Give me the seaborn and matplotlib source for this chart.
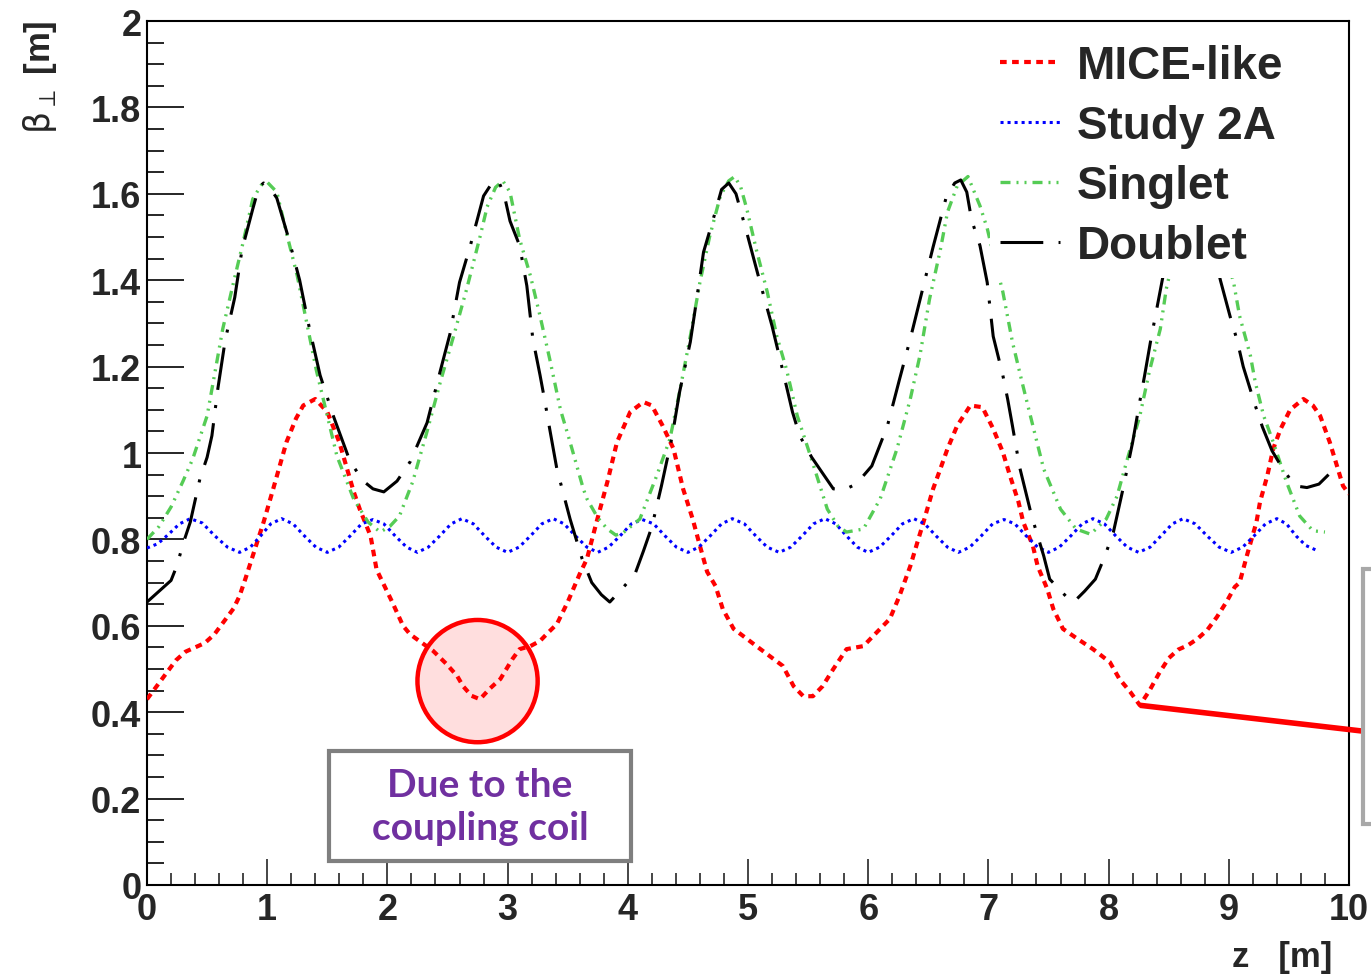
"""Transverse beta function along the cooling lattice for four channel designs."""
import matplotlib

matplotlib.use("Agg")
import matplotlib.pyplot as plt
import numpy as np
import pandas as pd
import seaborn as sns
from matplotlib.lines import Line2D
from matplotlib.patches import Ellipse, Rectangle
from matplotlib.ticker import MultipleLocator

# ---- data (z in m, beta_perp in m) ----
mice_z = [0.00, 0.08, 0.16, 0.24, 0.32, 0.40, 0.48, 0.56, 0.64, 0.72, 0.77, 0.82, 0.88, 0.97,
          1.05, 1.16, 1.24, 1.30, 1.40, 1.50, 1.60, 1.72, 1.77, 1.86, 1.91, 2.00, 2.04, 2.13,
          2.19, 2.30, 2.38, 2.49, 2.58, 2.63, 2.70, 2.77, 2.85, 2.94, 3.04, 3.10, 3.19, 3.27,
          3.34, 3.41, 3.50, 3.60, 3.66, 3.74, 3.83, 3.91, 4.02, 4.13, 4.20, 4.29, 4.38, 4.46,
          4.54, 4.60, 4.66, 4.73, 4.79, 4.88, 4.99, 5.07, 5.18, 5.29, 5.38, 5.46, 5.54, 5.62,
          5.71, 5.82, 5.96, 6.04, 6.18, 6.26, 6.35, 6.41, 6.46, 6.54, 6.60, 6.66, 6.74, 6.85,
          6.95, 7.04, 7.12, 7.18, 7.25, 7.29, 7.37, 7.41, 7.49, 7.54, 7.62, 7.74, 7.87, 8.01,
          8.09, 8.18, 8.26, 8.34, 8.42, 8.50, 8.58, 8.66, 8.74, 8.82, 8.90, 8.98, 9.05, 9.09,
          9.15, 9.23, 9.26, 9.32, 9.37, 9.43, 9.51, 9.62, 9.70, 9.76, 9.84, 9.90, 9.95, 10.00]
mice_b = [0.430, 0.460, 0.490, 0.520, 0.540, 0.550, 0.560, 0.580, 0.610, 0.640, 0.669, 0.710,
          0.762, 0.840, 0.917, 1.025, 1.080, 1.110, 1.125, 1.095, 1.025, 0.910, 0.870, 0.808,
          0.730, 0.678, 0.655, 0.600, 0.580, 0.558, 0.542, 0.512, 0.484, 0.460, 0.438, 0.430,
          0.454, 0.477, 0.523, 0.546, 0.553, 0.565, 0.585, 0.604, 0.655, 0.720, 0.755, 0.840,
          0.933, 1.025, 1.095, 1.118, 1.110, 1.063, 1.010, 0.917, 0.847, 0.785, 0.725, 0.692,
          0.639, 0.593, 0.570, 0.553, 0.530, 0.507, 0.460, 0.437, 0.437, 0.460, 0.500, 0.546,
          0.553, 0.576, 0.616, 0.669, 0.738, 0.794, 0.840, 0.917, 0.963, 1.010, 1.063, 1.110,
          1.106, 1.056, 1.002, 0.947, 0.887, 0.840, 0.785, 0.738, 0.685, 0.639, 0.593, 0.570,
          0.546, 0.516, 0.477, 0.447, 0.416, 0.450, 0.490, 0.525, 0.545, 0.555, 0.570, 0.590,
          0.620, 0.655, 0.690, 0.700, 0.762, 0.840, 0.887, 0.947, 1.010, 1.055, 1.100, 1.125,
          1.110, 1.086, 1.025, 0.970, 0.924, 0.905]

study_z = [0.00, 0.09, 0.18, 0.27, 0.36, 0.46, 0.565, 0.67, 0.77, 0.86, 0.945, 1.03, 1.12,
           1.215, 1.31, 1.405, 1.50, 1.595, 1.69, 1.785, 1.88, 1.97, 2.065, 2.16, 2.25, 2.34,
           2.435, 2.53, 2.62, 2.715, 2.81, 2.905, 3.00, 3.095, 3.19, 3.285, 3.38, 3.47, 3.565,
           3.66, 3.75, 3.84, 3.935, 4.03, 4.12, 4.215, 4.31, 4.405, 4.50, 4.59, 4.685, 4.78,
           4.87, 4.97, 5.065, 5.16, 5.26, 5.355, 5.45, 5.545, 5.64, 5.73, 5.82, 5.91, 6.00,
           6.095, 6.19, 6.285, 6.38, 6.47, 6.565, 6.66, 6.75, 6.845, 6.94, 7.035, 7.13, 7.22,
           7.315, 7.41, 7.50, 7.59, 7.685, 7.78, 7.87, 7.965, 8.06, 8.155, 8.25, 8.345, 8.435,
           8.53, 8.62, 8.72, 8.82, 8.92, 9.02, 9.115, 9.21, 9.305, 9.40, 9.48, 9.56, 9.64, 9.72]
study_b = [0.780, 0.790, 0.812, 0.836, 0.848, 0.838, 0.808, 0.782, 0.770, 0.782, 0.808, 0.836,
           0.848, 0.836, 0.808, 0.782, 0.770, 0.782, 0.808, 0.836, 0.846, 0.836, 0.808, 0.782,
           0.770, 0.782, 0.808, 0.836, 0.848, 0.836, 0.808, 0.782, 0.770, 0.782, 0.808, 0.836,
           0.848, 0.836, 0.808, 0.782, 0.770, 0.782, 0.808, 0.836, 0.846, 0.836, 0.808, 0.782,
           0.770, 0.782, 0.808, 0.836, 0.848, 0.836, 0.808, 0.782, 0.770, 0.782, 0.808, 0.836,
           0.848, 0.836, 0.808, 0.782, 0.770, 0.782, 0.808, 0.836, 0.848, 0.836, 0.808, 0.782,
           0.770, 0.782, 0.808, 0.836, 0.846, 0.836, 0.808, 0.782, 0.770, 0.782, 0.808, 0.836,
           0.848, 0.836, 0.808, 0.782, 0.770, 0.782, 0.808, 0.836, 0.848, 0.836, 0.808, 0.782,
           0.770, 0.782, 0.808, 0.836, 0.848, 0.836, 0.808, 0.786, 0.776]

singlet_z = [0.00, 0.10, 0.20, 0.30, 0.38, 0.50, 0.57, 0.63, 0.72, 0.80, 0.88, 0.95, 1.00,
             1.08, 1.16, 1.25, 1.33, 1.41, 1.50, 1.58, 1.72, 1.84, 1.94, 2.02, 2.10, 2.21,
             2.33, 2.44, 2.55, 2.66, 2.77, 2.83, 2.90, 2.96, 3.02, 3.10, 3.19, 3.27, 3.35,
             3.44, 3.52, 3.63, 3.66, 3.75, 3.83, 3.90, 3.96, 4.10, 4.24, 4.35, 4.43, 4.52,
             4.60, 4.68, 4.77, 4.84, 4.89, 4.94, 4.99, 5.07, 5.16, 5.24, 5.32, 5.41, 5.52,
             5.66, 5.75, 5.82, 5.96, 6.10, 6.24, 6.35, 6.43, 6.51, 6.60, 6.66, 6.74, 6.83,
             6.93, 6.99, 7.05, 7.12, 7.20, 7.28, 7.37, 7.46, 7.60, 7.73, 7.85, 7.98, 8.07,
             8.15, 8.26, 8.34, 8.43, 8.48, 8.58, 8.68, 8.77, 8.86, 8.96, 9.04, 9.09, 9.18,
             9.22, 9.29, 9.37, 9.48, 9.59, 9.70, 9.80]
singlet_b = [0.800, 0.830, 0.875, 0.935, 0.986, 1.086, 1.194, 1.287, 1.395, 1.488, 1.588,
             1.620, 1.627, 1.604, 1.510, 1.410, 1.300, 1.190, 1.086, 0.993, 0.893, 0.840,
             0.817, 0.830, 0.854, 0.933, 1.050, 1.164, 1.270, 1.380, 1.500, 1.570, 1.615,
             1.630, 1.604, 1.495, 1.410, 1.317, 1.218, 1.100, 1.025, 0.917, 0.894, 0.850,
             0.824, 0.810, 0.815, 0.847, 0.947, 1.032, 1.140, 1.270, 1.395, 1.500, 1.595,
             1.630, 1.640, 1.615, 1.565, 1.470, 1.373, 1.270, 1.194, 1.086, 0.993, 0.870,
             0.830, 0.817, 0.824, 0.894, 1.010, 1.125, 1.225, 1.356, 1.470, 1.558, 1.618,
             1.640, 1.572, 1.520, 1.450, 1.373, 1.257, 1.164, 1.063, 0.963, 0.870, 0.824,
             0.812, 0.847, 0.900, 0.980, 1.086, 1.190, 1.287, 1.380, 1.500, 1.600, 1.630,
             1.580, 1.470, 1.395, 1.317, 1.225, 1.164, 1.086, 1.025, 0.933, 0.854, 0.820,
             0.817]

doublet_z = [0.00, 0.10, 0.20, 0.25, 0.30, 0.36, 0.44, 0.50, 0.54, 0.59, 0.65, 0.73, 0.79,
             0.88, 0.93, 0.97, 1.02, 1.08, 1.18, 1.27, 1.35, 1.44, 1.55, 1.69, 1.80, 1.88,
             1.97, 2.08, 2.19, 2.33, 2.44, 2.52, 2.60, 2.69, 2.80, 2.87, 2.92, 2.97, 3.02,
             3.10, 3.16, 3.21, 3.27, 3.31, 3.35, 3.41, 3.46, 3.52, 3.62, 3.70, 3.78, 3.85,
             3.95, 4.06, 4.13, 4.20, 4.28, 4.37, 4.43, 4.52, 4.57, 4.63, 4.73, 4.78, 4.84,
             4.90, 4.99, 5.10, 5.20, 5.29, 5.37, 5.43, 5.53, 5.71, 5.80, 5.90, 6.03, 6.16,
             6.26, 6.35, 6.46, 6.54, 6.65, 6.72, 6.77, 6.82, 6.86, 6.93, 6.99, 7.04, 7.12,
             7.16, 7.20, 7.26, 7.31, 7.36, 7.46, 7.51, 7.65, 7.71, 7.80, 7.89, 7.97, 8.04,
             8.12, 8.20, 8.26, 8.30, 8.35, 8.40, 8.46, 8.55, 8.63, 8.68, 8.74, 8.82, 8.93,
             9.01, 9.07, 9.12, 9.22, 9.28, 9.36, 9.45, 9.55, 9.65, 9.75, 9.83]
doublet_b = [0.655, 0.680, 0.705, 0.740, 0.790, 0.840, 0.940, 0.990, 1.040, 1.150, 1.260,
             1.360, 1.470, 1.565, 1.615, 1.625, 1.615, 1.590, 1.495, 1.400, 1.290, 1.180,
             1.086, 0.980, 0.935, 0.917, 0.910, 0.935, 0.980, 1.070, 1.190, 1.275, 1.395,
             1.480, 1.595, 1.625, 1.632, 1.600, 1.537, 1.480, 1.387, 1.264, 1.180, 1.120,
             1.056, 0.963, 0.910, 0.847, 0.755, 0.700, 0.672, 0.655, 0.685, 0.720, 0.773,
             0.829, 0.924, 1.040, 1.140, 1.257, 1.350, 1.465, 1.560, 1.610, 1.625, 1.600,
             1.510, 1.395, 1.294, 1.190, 1.095, 1.040, 0.990, 0.917, 0.915, 0.928, 0.970,
             1.063, 1.170, 1.264, 1.387, 1.477, 1.593, 1.625, 1.632, 1.604, 1.540, 1.480,
             1.395, 1.270, 1.180, 1.125, 1.063, 0.967, 0.910, 0.854, 0.762, 0.708, 0.667,
             0.655, 0.680, 0.708, 0.762, 0.817, 0.917, 1.025, 1.120, 1.180, 1.260, 1.333,
             1.420, 1.540, 1.610, 1.625, 1.600, 1.530, 1.400, 1.317, 1.260, 1.200, 1.110,
             1.060, 1.005, 0.963, 0.924, 0.920, 0.928, 0.950]

SERIES = ["MICE-like", "Study 2A", "Singlet", "Doublet"]
COLORS = {"MICE-like": "#ff0000", "Study 2A": "#0000ff", "Singlet": "#55cc55", "Doublet": "#000000"}
WIDTHS = {"MICE-like": 3.0, "Study 2A": 2.2, "Singlet": 2.4, "Doublet": 2.2}
STYLES = {
    "MICE-like": (0, (1.6, 1.3)),
    "Study 2A": (0, (1.0, 1.3)),
    "Singlet": (0, (3.0, 1.8, 0.6, 1.8, 0.6, 1.8)),
    "Doublet": (0, (14, 5, 1, 5)),
}

# annotation geometry (data units)
COIL_CENTER = (2.75, 0.472)
COIL_BOX = (1.51, 0.056, 2.52, 0.254)
POINTER_END = (10.4, 0.347)
SIDE_BOX = (10.12, 0.141, 1.0, 0.59)

df = pd.concat([
    pd.DataFrame({"z": mice_z, "beta": mice_b, "design": "MICE-like"}),
    pd.DataFrame({"z": study_z, "beta": study_b, "design": "Study 2A"}),
    pd.DataFrame({"z": singlet_z, "beta": singlet_b, "design": "Singlet"}),
    pd.DataFrame({"z": doublet_z, "beta": doublet_b, "design": "Doublet"}),
], ignore_index=True)

sns.set_theme(style="ticks")
plt.rcParams["font.family"] = ["Liberation Sans", "DejaVu Sans"]
plt.rcParams["mathtext.fontset"] = "dejavusans"

fig = plt.figure(figsize=(13.71, 9.78), dpi=100)
ax = fig.add_axes([147 / 1371, 92 / 978, 1202 / 1371, 864 / 978])

for name in SERIES:
    sub = df[df["design"] == name]
    sns.lineplot(data=sub, x="z", y="beta", ax=ax, color=COLORS[name], lw=WIDTHS[name],
                 linestyle=STYLES[name], estimator=None, sort=False, legend=False, zorder=3)

ax.set_xlim(0, 10)
ax.set_ylim(0, 2)
ax.set_xlabel("")
ax.set_ylabel("")
ax.set_xticks(range(11))
ax.set_yticks(np.round(np.arange(0, 2.01, 0.2), 1))
ax.set_yticklabels(["0", "0.2", "0.4", "0.6", "0.8", "1", "1.2", "1.4", "1.6", "1.8", "2"])
ax.xaxis.set_minor_locator(MultipleLocator(0.2))
ax.yaxis.set_minor_locator(MultipleLocator(0.05))
ax.tick_params(axis="y", which="major", direction="in", length=26.5, width=1.4, labelsize=26, pad=4)
ax.tick_params(axis="y", which="minor", direction="in", length=12.5, width=1.4)
ax.tick_params(axis="x", which="major", direction="in", length=18.5, width=1.2, labelsize=26, pad=5)
ax.tick_params(axis="x", which="minor", direction="in", length=9, width=1.2)
ax.tick_params(top=False, right=False, which="both")
for lab in ax.get_xticklabels() + ax.get_yticklabels():
    lab.set_fontweight("bold")
for sp in ax.spines.values():
    sp.set_linewidth(1.5)
    sp.set_color("black")

# coupling-coil callout
ax.add_patch(Ellipse(COIL_CENTER, 1.0, 0.283, facecolor=(1, 0, 0, 0.13), edgecolor="#ff0000",
                     lw=3.2, zorder=2))
bx, by, bw, bh = COIL_BOX
ax.add_patch(Rectangle((bx, by), bw, bh, facecolor="white", edgecolor="#7f7f7f", lw=3, zorder=4))
ax.text(bx + bw / 2, by + bh / 2, "Due to the\ncoupling coil", ha="center", va="center",
        color="#7030a0", fontsize=28, fontweight="bold", family=["Lato", "DejaVu Sans"],
        linespacing=1.25, zorder=5)

# pointer from the last MICE-like minimum out to a callout beyond the frame
late = [i for i, z in enumerate(mice_z) if z > 8]
imin = min(late, key=lambda i: mice_b[i])
ax.plot([mice_z[imin], POINTER_END[0]], [mice_b[imin], POINTER_END[1]], color="#ff0000", lw=4,
        solid_capstyle="butt", clip_on=False, zorder=6)
sx, sy, sw, sh = SIDE_BOX
ax.add_patch(Rectangle((sx, sy), sw, sh, facecolor="white", edgecolor="#a8a8a8", lw=3,
                       clip_on=False, zorder=7))

handles = [Line2D([], [], color=COLORS[n], lw=WIDTHS[n], linestyle=STYLES[n]) for n in SERIES]
leg = ax.legend(handles, SERIES, loc="upper left", bbox_to_anchor=(0.701, 0.985),
                borderaxespad=0, borderpad=0.22, handlelength=1.31, handletextpad=0.37,
                labelspacing=0.35, frameon=True, fancybox=False, framealpha=1,
                facecolor="white", edgecolor="none",
                prop={"family": ["Liberation Sans", "DejaVu Sans"], "weight": "bold", "size": 33})
leg.set_zorder(5)

fig.text(40 / 1371, 1 - 20 / 978, r"$\mathrm{\beta}_{\perp}$ [m]", rotation=90, ha="center",
         va="top", fontsize=25, fontweight="bold")
fig.text(1332 / 1371, 1 - 958 / 978, "z   [m]", ha="right", va="center", fontsize=25,
         fontweight="bold")

fig.savefig("out.png", dpi=100)
